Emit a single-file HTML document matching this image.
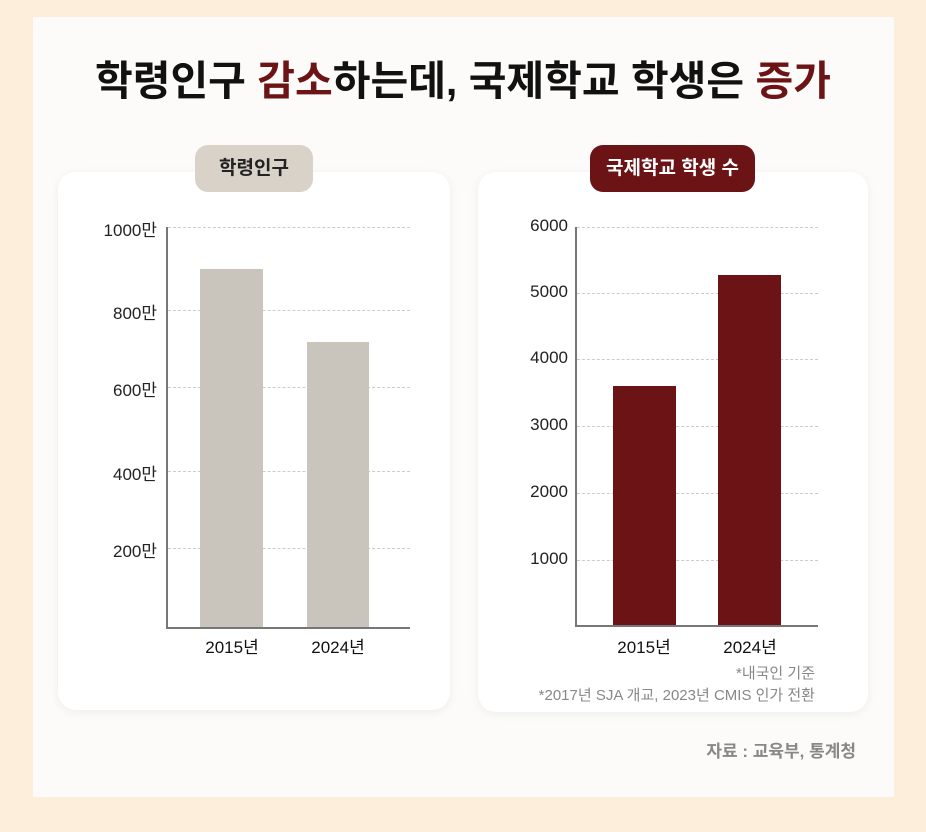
<!DOCTYPE html>
<html><head><meta charset="utf-8"><style>
body{margin:0;width:926px;height:832px;background:#fdeedb;position:relative;font-family:"Liberation Sans","Noto Sans CJK KR",sans-serif;overflow:hidden}
.in{position:absolute;left:33px;top:17px;width:861px;height:780px;background:#fcfbf9}
.t{position:absolute;left:0;width:926px;top:47px;text-align:center;font-size:41px;font-weight:bold;color:#111;letter-spacing:0px}
.t span{color:#6b1315}
.card{position:absolute;background:#fff;border-radius:18px;box-shadow:0 2px 10px rgba(0,0,0,.06)}
.badge{position:absolute;border-radius:13px;font-size:19px;font-weight:bold;text-align:center;line-height:47px}
.ab{position:absolute}
.lbl{position:absolute;font-size:17px;color:#222;text-align:right;width:80px}
.xl{position:absolute;font-size:17px;color:#111;width:100px;text-align:center}
.g{position:absolute;border-top:1px dashed #ccc;height:0}
</style></head><body>
<div class="in"></div>
<div class="t">학령인구 <span>감소</span>하는데, 국제학교 학생은 <span>증가</span></div>
<div class="card" style="left:58px;top:172px;width:392px;height:538px"></div>
<div class="card" style="left:478px;top:172px;width:390px;height:540px"></div>
<div class="badge" style="left:195px;top:145px;width:118px;background:#d8d2c8;color:#222">학령인구</div>
<div class="badge" style="left:590px;top:145px;width:165px;background:#6b1315;color:#fff">국제학교 학생 수</div>

<div class="g" style="left:168px;width:242px;top:227px"></div>
<div class="g" style="left:168px;width:242px;top:310px"></div>
<div class="g" style="left:168px;width:242px;top:387px"></div>
<div class="g" style="left:168px;width:242px;top:471px"></div>
<div class="g" style="left:168px;width:242px;top:548px"></div>
<div class="ab" style="left:200px;top:269px;width:63px;height:359px;background:#c9c4bc"></div>
<div class="ab" style="left:307px;top:342px;width:62px;height:286px;background:#c9c4bc"></div>
<div class="ab" style="left:166px;top:227px;width:2px;height:402px;background:#777"></div>
<div class="ab" style="left:166px;top:627px;width:244px;height:2px;background:#777"></div>
<div class="lbl" style="left:77px;top:216px">1000만</div>
<div class="lbl" style="left:77px;top:299px">800만</div>
<div class="lbl" style="left:77px;top:376px">600만</div>
<div class="lbl" style="left:77px;top:460px">400만</div>
<div class="lbl" style="left:77px;top:537px">200만</div>
<div class="xl" style="left:182px;top:633px">2015년</div>
<div class="xl" style="left:288px;top:633px">2024년</div>

<div class="g" style="left:577px;width:241px;top:227px"></div>
<div class="g" style="left:577px;width:241px;top:293px"></div>
<div class="g" style="left:577px;width:241px;top:359px"></div>
<div class="g" style="left:577px;width:241px;top:426px"></div>
<div class="g" style="left:577px;width:241px;top:493px"></div>
<div class="g" style="left:577px;width:241px;top:560px"></div>
<div class="ab" style="left:613px;top:386px;width:63px;height:240px;background:#6b1315"></div>
<div class="ab" style="left:718px;top:275px;width:63px;height:351px;background:#6b1315"></div>
<div class="ab" style="left:575px;top:227px;width:2px;height:400px;background:#777"></div>
<div class="ab" style="left:575px;top:625px;width:243px;height:2px;background:#777"></div>
<div class="lbl" style="left:488px;top:216px">6000</div>
<div class="lbl" style="left:488px;top:282px">5000</div>
<div class="lbl" style="left:488px;top:348px">4000</div>
<div class="lbl" style="left:488px;top:415px">3000</div>
<div class="lbl" style="left:488px;top:482px">2000</div>
<div class="lbl" style="left:488px;top:549px">1000</div>
<div class="xl" style="left:594px;top:633px">2015년</div>
<div class="xl" style="left:700px;top:633px">2024년</div>
<div class="ab" style="left:480px;top:662px;width:335px;text-align:right;font-size:15px;color:#888">*내국인 기준</div>
<div class="ab" style="left:480px;top:684px;width:335px;text-align:right;font-size:15px;color:#888">*2017년 SJA 개교, 2023년 CMIS 인가 전환</div>
<div class="ab" style="left:600px;top:737px;width:256px;text-align:right;font-size:17px;font-weight:bold;color:#888">자료 : 교육부, 통계청</div>
</body></html>
